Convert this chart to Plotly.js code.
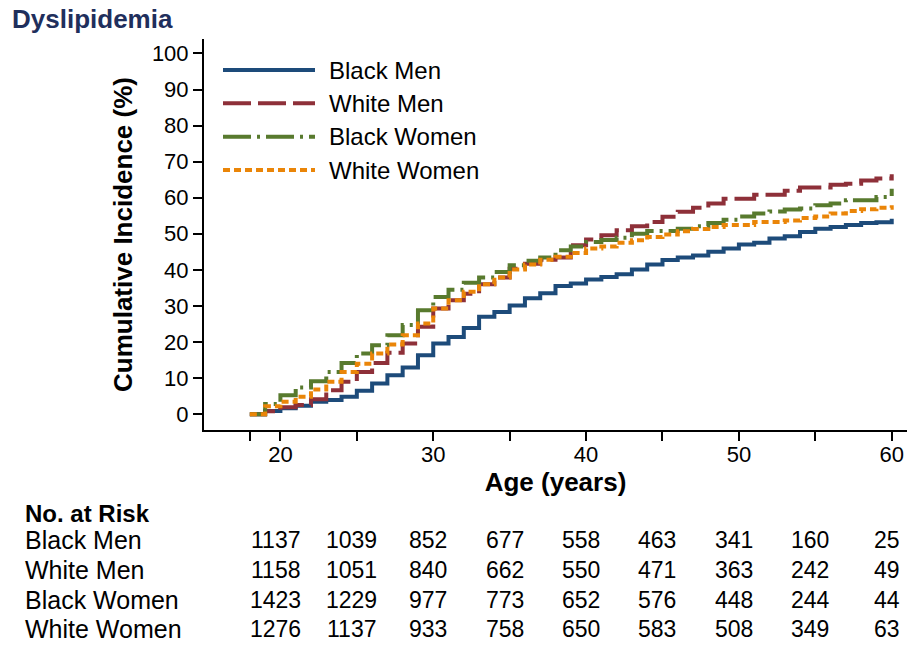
<!DOCTYPE html>
<html>
<head>
<meta charset="utf-8">
<script src="https://cdn.plot.ly/plotly-3.0.1.min.js"></script>
<style>
  html, body { margin: 0; padding: 0; background: #ffffff; }
  #chart { width: 910px; height: 645px; }
</style>
</head>
<body>
<div id="chart"></div>
<script>
// ---- Data ----
var ages = [18,19,20,21,22,23,24,25,26,27,28,29,30,31,32,33,34,35,36,37,38,39,40,41,42,43,44,45,46,47,48,49,50,51,52,53,54,55,56,57,58,59,60];

var blackMen = [0.0,0.9,1.6,2.3,3.4,3.9,4.8,6.5,8.5,10.8,12.9,16.3,19.6,21.4,23.9,27.0,28.3,30.1,32.1,33.5,35.5,36.2,37.3,38.0,38.8,40.1,41.5,42.7,43.4,44.0,45.0,45.9,47.0,47.5,48.7,49.3,50.5,51.4,51.9,52.4,53.0,53.2,54.2];
var whiteMen = [0.0,0.8,1.9,2.5,4.1,6.6,9.0,11.7,14.2,17.0,19.6,24.2,29.3,31.6,33.4,36.0,37.9,40.3,41.7,42.8,43.4,46.8,48.4,49.6,51.0,52.1,53.3,54.7,56.1,57.2,58.4,59.7,59.7,60.8,60.8,61.9,62.8,62.8,63.6,63.9,64.8,65.3,66.5];
var blackWomen = [0.0,2.8,5.2,7.4,9.1,11.7,14.2,16.8,19.1,21.9,24.7,28.8,32.5,34.5,36.4,37.9,39.4,41.3,42.5,43.4,45.4,46.5,47.7,48.3,48.9,50.0,50.8,50.8,51.4,52.1,53.0,53.9,54.8,55.6,56.2,56.7,57.0,57.9,58.4,59.3,59.3,60.2,62.5];
var whiteWomen = [0.0,2.2,3.4,4.8,6.8,9.0,11.7,14.0,16.8,19.3,21.9,25.1,29.3,31.6,33.9,36.0,37.9,40.1,41.5,42.8,43.6,44.7,45.9,46.5,47.5,48.2,49.1,49.8,50.7,51.3,51.9,52.4,52.4,53.3,53.3,53.7,54.4,54.8,55.6,56.3,56.8,57.2,57.9];

var seriesNames = ["Black Men", "White Men", "Black Women", "White Women"];
var seriesColors = ["#1d4b7a", "#8e3039", "#587a2e", "#ea8508"];
var seriesDash = ["solid", "28px,7px", "28px,6px,3px,6px", "7px,4px"];

// ---- No. at risk table ----
var riskAges = [20,25,30,35,40,45,50,55,60];
var riskBlackMen = [1137,1039,852,677,558,463,341,160,25];
var riskWhiteMen = [1158,1051,840,662,550,471,363,242,49];
var riskBlackWomen = [1423,1229,977,773,652,576,448,244,44];
var riskWhiteWomen = [1276,1137,933,758,650,583,508,349,63];

// ---- Axis ticks ----
var xTickVals = [18,20,25,30,35,40,45,50,55,60];
var xTickText = ["","20","","30","","40","","50","","60"];
var yTickVals = [0,10,20,30,40,50,60,70,80,90,100];

var allSeries = [blackMen, whiteMen, blackWomen, whiteWomen];
var riskRows = [riskBlackMen, riskWhiteMen, riskBlackWomen, riskWhiteWomen];

var FONT = "Liberation Sans, Arial, Helvetica, sans-serif";

var traces = allSeries.map(function (vals, i) {
  return {
    x: ages,
    y: vals,
    type: "scatter",
    mode: "lines",
    name: seriesNames[i],
    line: { shape: "hv", color: seriesColors[i], width: 4, dash: seriesDash[i] },
    showlegend: false,
    hoverinfo: "skip"
  };
});

// Layout geometry
var M = { l: 204, r: 3, t: 39, b: 215 };
var plotH = 645 - M.t - M.b;   // 391
var plotW = 910 - M.l - M.r;   // 703
function py(px) { return (430 - px) / plotH; }   // pixel y -> paper y
function pxX(px) { return (px - M.l) / plotW; }  // pixel x -> paper x

var shapes = [];
var annotations = [];

// Legend (drawn manually: long sample lines)
var legendRowsPx = [70, 103.3, 136.7, 170];
seriesNames.forEach(function (nm, i) {
  shapes.push({
    type: "line", xref: "paper", yref: "paper",
    x0: pxX(223), x1: pxX(315), y0: py(legendRowsPx[i]), y1: py(legendRowsPx[i]),
    line: { color: seriesColors[i], width: 4, dash: seriesDash[i] }
  });
  annotations.push({
    xref: "paper", yref: "paper", x: pxX(327), y: py(legendRowsPx[i]),
    xanchor: "left", yanchor: "middle", showarrow: false,
    text: nm, font: { family: FONT, size: 24, color: "#000" }
  });
});

// Risk table
var riskRowPx = [540, 570, 600, 629];
annotations.push({
  xref: "paper", yref: "paper", x: pxX(23), y: py(513),
  xanchor: "left", yanchor: "middle", showarrow: false,
  text: "<b>No. at Risk</b>", font: { family: FONT, size: 24, color: "#000" }
});
riskRows.forEach(function (row, r) {
  annotations.push({
    xref: "paper", yref: "paper", x: pxX(23), y: py(riskRowPx[r]),
    xanchor: "left", yanchor: "middle", showarrow: false,
    text: seriesNames[r], font: { family: FONT, size: 25, color: "#000" }
  });
  row.forEach(function (v, c) {
    annotations.push({
      xref: "x", yref: "paper", x: riskAges[c], y: py(riskRowPx[r]),
      xanchor: "center", yanchor: "middle", showarrow: false, xshift: -5,
      text: String(v), font: { family: FONT, size: 23, color: "#000" }
    });
  });
});

var layout = {
  width: 910, height: 645,
  margin: M,
  paper_bgcolor: "#ffffff", plot_bgcolor: "#ffffff",
  showlegend: false,
  title: {
    text: "<b>Dyslipidemia</b>",
    font: { family: FONT, size: 26, color: "#1f2f5c" },
    xref: "container", yref: "container",
    x: 12 / 910, xanchor: "left",
    y: 1 - 19 / 645, yanchor: "middle"
  },
  xaxis: {
    range: [15, 61],
    tickmode: "array", tickvals: xTickVals, ticktext: xTickText,
    ticks: "outside", ticklen: 9, tickwidth: 2, tickcolor: "#000",
    ticklabelstandoff: -5,
    showline: true, linecolor: "#000", linewidth: 2,
    showgrid: false, zeroline: false,
    tickfont: { family: FONT, size: 22, color: "#000" },
    title: { text: "<b>Age (years)</b>", font: { family: FONT, size: 26, color: "#000" }, standoff: 4 },
    automargin: false,
    fixedrange: true
  },
  yaxis: {
    range: [-4.4, 104],
    tickmode: "array", tickvals: yTickVals,
    ticks: "outside", ticklen: 9, tickwidth: 2, tickcolor: "#000",
    showline: true, linecolor: "#000", linewidth: 2,
    showgrid: false, zeroline: false,
    tickfont: { family: FONT, size: 22, color: "#000" },
    title: { text: "<b>Cumulative Incidence (%)</b>", font: { family: FONT, size: 26, color: "#000" }, standoff: 12 },
    automargin: false,
    fixedrange: true
  },
  shapes: shapes,
  annotations: annotations
};

Plotly.newPlot("chart", traces, layout, { displayModeBar: false, staticPlot: true });
</script>
</body>
</html>
